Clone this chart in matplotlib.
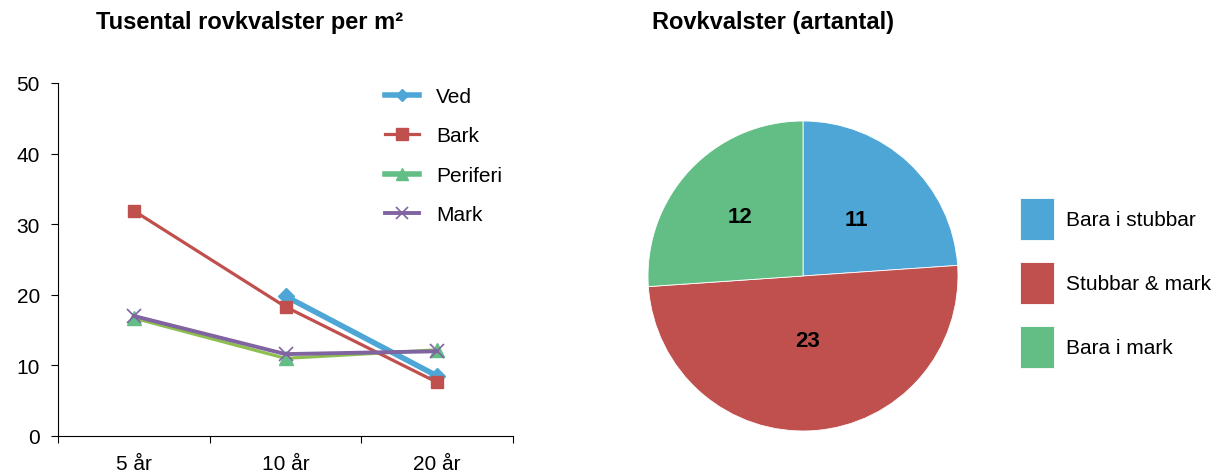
import matplotlib
matplotlib.use("Agg")
import matplotlib.pyplot as plt
from matplotlib.lines import Line2D
import numpy as np

plt.rcParams['font.family'] = ['Liberation Sans', 'DejaVu Sans']

categories = ["5 år", "10 år", "20 år"]
ved = [np.nan, 19.8, 8.5]
bark = [31.9, 18.3, 7.6]
periferi = [16.7, 11.0, 12.2]
mark = [17.0, 11.6, 12.0]
yticks = [0, 10, 20, 30, 40, 50]
series_names = ["Ved", "Bark", "Periferi", "Mark"]

pie_labels = ["Bara i stubbar", "Stubbar & mark", "Bara i mark"]
pie_values = [11, 23, 12]

c_blue = "#4EA6D7"
c_red = "#C0504D"
c_green = "#63BE86"
c_olive = "#8DBE4E"
c_purple = "#8064A2"

W, H = 1217, 477
fig = plt.figure(figsize=(W/100, H/100), dpi=100)

# Line chart
ax = fig.add_axes([58/W, 40/H, (513-58)/W, (437-84)/H])
x = np.arange(len(categories))
ax.plot(x, ved, color=c_blue, lw=4, marker="D", ms=8, zorder=3)
ax.plot(x, bark, color=c_red, lw=2.3, marker="s", ms=9, zorder=4)
ax.plot(x, periferi, color=c_olive, lw=2.3, marker="^", ms=10, mfc=c_green, mec=c_green, zorder=3)
ax.plot(x, mark, color=c_purple, lw=2.8, marker="x", ms=10, mew=1.2, zorder=5)
ax.set_xlim(-0.5, len(categories) - 0.5)
ax.set_ylim(0, 50)
ax.set_yticks(yticks)
ax.set_xticks(np.arange(len(categories) + 1) - 0.5)
ax.set_xticklabels([])
ax.set_xticks(x, minor=True)
ax.set_xticklabels(categories, minor=True)
ax.tick_params(axis='x', which='minor', length=0, pad=13, labelsize=15)
ax.tick_params(axis='x', which='major', length=5, direction='out', color='black')
ax.tick_params(axis='y', length=5, direction='out', pad=8, labelsize=15)
for s in ["top", "right"]:
    ax.spines[s].set_visible(False)
ax.spines['left'].set_color('black')
ax.spines['bottom'].set_color('black')
handles = [
    Line2D([], [], color=c_blue, lw=4, marker="D", ms=6),
    Line2D([], [], color=c_red, lw=2.3, marker="s", ms=9),
    Line2D([], [], color=c_green, lw=4, marker="^", ms=9),
    Line2D([], [], color=c_purple, lw=2.8, marker="x", ms=9, mew=1.2),
]
ax.legend(handles, series_names, loc="upper left", bbox_to_anchor=(385/W, 1 - 88/H),
          bbox_transform=fig.transFigure, frameon=False, fontsize=15, labelspacing=0.98,
          handlelength=1.65, handletextpad=0.8, borderpad=0, borderaxespad=0)
fig.text(250/W, 1 - 22/H, "Tusental rovkvalster per m²", fontsize=17, fontweight="bold",
         ha="center", va="center")

# Pie chart
ax2 = fig.add_axes([648/W, 45/H, 310/W, 310/H])
wedges, texts, autotexts = ax2.pie(
    pie_values, colors=[c_blue, c_red, c_green], startangle=90, counterclock=False,
    autopct=lambda p: f"{p*sum(pie_values)/100:.0f}", pctdistance=0.5,
    wedgeprops=dict(edgecolor="white", linewidth=0.6),
    textprops=dict(fontsize=16, fontweight="bold", color="black"))
for t, f in zip(autotexts, [1.0, 0.84, 1.12]):
    px, py = t.get_position()
    t.set_position((px * f, py * f))
ax2.set_xlim(-1, 1)
ax2.set_ylim(-1, 1)
ax2.set_aspect("equal")
ax2.legend(wedges, pie_labels, loc="center left", bbox_to_anchor=(1020/W, 1 - 284/H),
           bbox_transform=fig.transFigure, frameon=False, fontsize=15,
           handlelength=1.65, handleheight=2.75, labelspacing=1.05, handletextpad=0.55,
           borderpad=0, borderaxespad=0)
fig.text(652/W, 1 - 22/H, "Rovkvalster (artantal)", fontsize=17, fontweight="bold",
         ha="left", va="center")

fig.savefig("out.png", dpi=100)
